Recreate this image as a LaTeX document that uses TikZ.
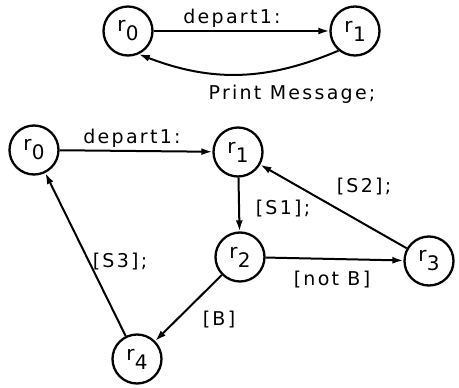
\documentclass[tikz,border=0pt]{standalone}
\usepackage{fontspec}
\usetikzlibrary{arrows.meta}
\newfontfamily\labfont[LetterSpace=12]{DejaVu Sans}
\newfontfamily\stfont{DejaVu Sans}
\newcommand\rn[1]{r\kern0.5pt\raisebox{-0.45em}{#1}}
\tikzset{
  st/.style={circle, draw, line width=2.3pt, minimum size=49pt, inner sep=0pt,
             font=\stfont\fontsize{20}{20}\selectfont},
  lbl/.style={font=\labfont\fontsize{19}{19}\selectfont, inner sep=0pt},
  ar/.style={-{Latex[length=11pt,width=7pt]}, line width=2pt}
}
\begin{document}
\begin{tikzpicture}[x=1pt,y=-1pt]
\useasboundingbox (0,0) rectangle (459,388);
% top machine
\node[st] (a0) at (128,31) {\rn{0}};
\node[st] (a1) at (355,31) {\rn{1}};
\draw[ar] (a0) -- (a1);
\draw[ar] (a1.-130) to[bend left=22] (a0.-65);
\node[lbl] (la) at (232,18) {depart1:};
\node[lbl] (lb) at (292,94) {Print Message;};
% bottom machine
\node[st] (b0) at (34,150) {\rn{0}};
\node[st] (b1) at (238,152) {\rn{1}};
\node[st] (b2) at (240,257) {\rn{2}};
\node[st] (b3) at (429,261) {\rn{3}};
\node[st] (b4) at (137,359) {\rn{4}};
\draw[ar] (b0) -- (b1);
\draw[ar] (b1) -- (b2);
\draw[ar] (b2) -- (b3);
\draw[ar] (b3) -- (b1);
\draw[ar] (b2) -- (b4);
\draw[ar] (b4) -- (b0);
\node[lbl] (lc) at (132,138) {depart1:};
\node[lbl] (ls1) at (283,209) {[S1];};
\node[lbl] (ls2) at (364,187) {[S2];};
\node[lbl] (lnb) at (332,280) {[not B]};
\node[lbl] (lbb) at (219,320) {[B]};
\node[lbl] (ls3) at (120,262) {[S3];};
\end{tikzpicture}
\end{document}
